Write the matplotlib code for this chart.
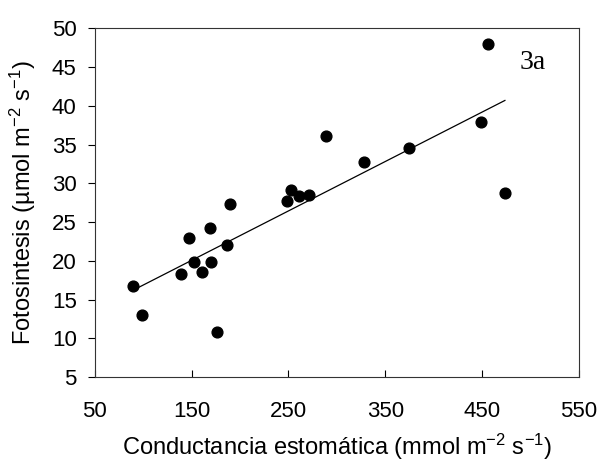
import numpy as np
import matplotlib
matplotlib.use('Agg')
import matplotlib.pyplot as plt

plt.rcParams['font.family'] = ['Liberation Sans', 'DejaVu Sans']
plt.rcParams['mathtext.default'] = 'regular'

# data
conductancia = [89.5, 98.5, 139, 147, 152, 160.5, 169, 169.5, 176.5, 186, 190,
                248.5, 252.5, 261, 271.5, 289, 328.5, 374.5, 449, 456, 473.5]
fotosintesis = [16.8, 13.0, 18.3, 22.9, 19.9, 18.5, 24.3, 19.9, 10.8, 22.1, 27.4,
                27.7, 29.1, 28.4, 28.5, 36.1, 32.7, 34.6, 37.9, 48.0, 28.7]

# regression line ends
fit_x = [92.5, 473.5]
fit_y = [16.4, 40.7]

xticks = [50, 150, 250, 350, 450, 550]
yticks = [5, 10, 15, 20, 25, 30, 35, 40, 45, 50]

fig = plt.figure(figsize=(6, 4.65), dpi=100)
ax = fig.add_axes([0.158, 0.189, 0.807, 0.750])

ax.scatter(conductancia, fotosintesis, s=60, color='black', zorder=3)
ax.plot(fit_x, fit_y, color='black', lw=0.9)

ax.set_xlim(50, 550)
ax.set_ylim(5, 50)
ax.set_xticks(xticks)
ax.set_yticks(yticks)

ax.tick_params(axis='x', direction='in', length=5, pad=17, labelsize=16)
ax.tick_params(axis='y', direction='out', length=5, pad=8, labelsize=16)
for sp in ax.spines.values():
    sp.set_linewidth(0.8)
    sp.set_color('#333333')

ax.set_xlabel('Conductancia estomática (mmol m$^{-2}$ s$^{-1}$)', fontsize=17, labelpad=7)
ax.set_ylabel('Fotosintesis (µmol m$^{-2}$ s$^{-1}$)', fontsize=17, labelpad=10)

ax.text(502, 45.6, '3a', family='Liberation Serif', fontsize=20, ha='center', va='center')

fig.savefig('out.png', dpi=100)
